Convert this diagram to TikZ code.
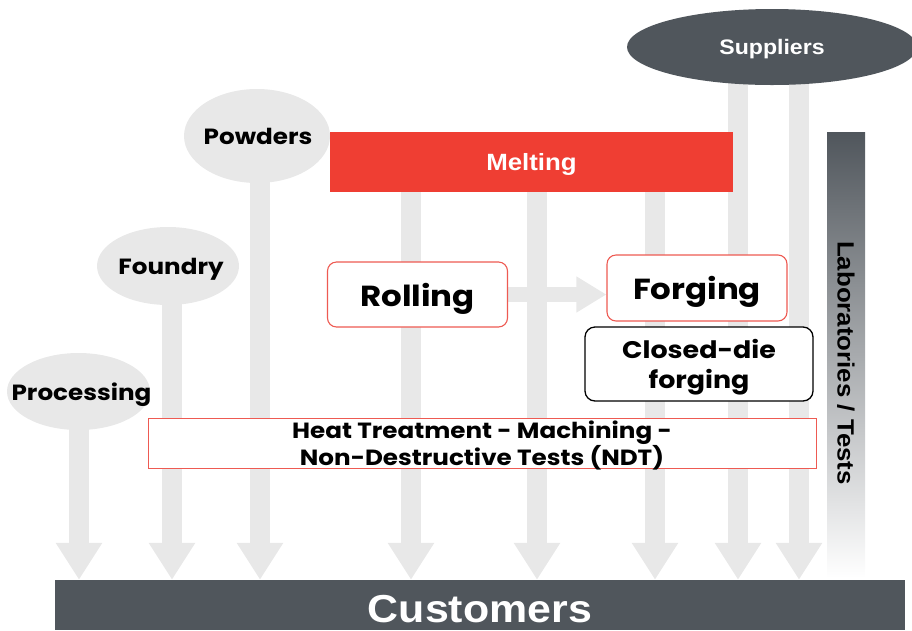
\documentclass[tikz,border=0pt]{standalone}
\usepackage{fontspec}
\setmainfont{Poppins}[FakeStretch=1.12]
\newfontfamily\arialf{Liberation Sans}[FakeStretch=1.1]
\usetikzlibrary{arrows.meta,shapes.geometric}
\definecolor{shaftgray}{HTML}{E8E8E8}
\definecolor{darkslate}{HTML}{50565C}
\definecolor{meltred}{HTML}{EF3E33}
\definecolor{boxred}{HTML}{EE5A52}
\pgfdeclarelayer{bg}
\pgfsetlayers{bg,main}
\begin{document}
\begin{tikzpicture}[x=1pt,y=-1pt,
  shaft/.style={draw=shaftgray,line width=20pt,-{Triangle[width=44pt,length=37pt]}},
  bubble/.style={ellipse,fill=shaftgray,inner sep=0pt},
  bubbletext/.style={font=\fontsize{22}{24}\selectfont\bfseries,text depth=0pt,inner sep=0pt},
  redbox/.style={draw=boxred,line width=1.1pt,fill=white,rounded corners=9pt,inner sep=0pt,text depth=0pt,font=\fontsize{29}{31}\selectfont\bfseries},
]
\useasboundingbox (0,0) rectangle (912,630);

% customers bar
\node[fill=darkslate,minimum width=850pt,minimum height=50pt,inner sep=0pt] (cust) at (480,605) {};
\node[text=white,inner sep=0pt,text depth=0pt,font=\arialf\fontsize{39}{42}\selectfont\bfseries]
  (custtext) at ([yshift=-4pt]cust.center) {Customers};

% laboratories bar
\shade[top color=darkslate,middle color=darkslate!38,bottom color=white] (827,132) rectangle (865,578);
\node[rotate=-90,font=\arialf\fontsize{23.5}{26}\selectfont\bfseries] (lab) at (846,363) {Laboratories / Tests};

% suppliers
\node[ellipse,fill=darkslate,minimum width=290pt,minimum height=76pt,inner sep=0pt,text depth=0pt,
  text=white,font=\arialf\fontsize{21}{24}\selectfont\bfseries] (sup) at (772,47) {Suppliers};

% melting
\node[fill=meltred,minimum width=403pt,minimum height=60pt,inner sep=0pt,text depth=0pt,
  text=white,font=\arialf\fontsize{23.5}{26}\selectfont\bfseries] (melt) at (531.5,162) {Melting};

% sources
\node[bubble,minimum width=146pt,minimum height=94pt] (powd) at (257,136) {};
\node[bubbletext] (powdt) at ([xshift=1pt]powd.center) {Powders};
\node[bubble,minimum width=142pt,minimum height=78pt] (found) at (168,266) {};
\node[bubbletext] (foundt) at ([xshift=3pt]found.center) {Foundry};
\node[bubble,minimum width=143pt,minimum height=77pt] (proc) at (78.5,391.5) {};
\node[bubbletext] (proct) at ([xshift=3pt]proc.center) {Processing};

% process boxes
\node[redbox,minimum width=180pt,minimum height=65pt] (roll) at (417.5,294.5) {Rolling};
\node[redbox,minimum width=180pt,minimum height=66pt] (forg) at (697,288) {Forging};
\node[draw=black,line width=1.3pt,fill=white,rounded corners=10pt,minimum width=228pt,minimum height=74pt,
  inner sep=0pt,align=center,text depth=0pt,font=\fontsize{24}{30}\selectfont\bfseries] (cdf) at (699,364) {Closed-die\\forging};
\node[draw=boxred,line width=1pt,fill=white,minimum width=668pt,minimum height=50pt,inner sep=0pt,
  align=center,text depth=0pt,font=\fontsize{22}{23.5}\selectfont\bfseries] (heat) at (482,443) {Heat Treatment - Machining -\\Non-Destructive Tests (NDT)};

% shaft tops
\coordinate (tproc) at (79,391);
\coordinate (tfound) at (172,266);
\coordinate (tpowd) at (260,136);
\coordinate (tm1) at (411,162);
\coordinate (tm2) at (537,162);
\coordinate (tm3) at (655,162);
\coordinate (ts1) at (738,60);
\coordinate (ts2) at (799,60);

\begin{pgfonlayer}{bg}
\foreach \t in {tproc,tfound,tpowd,tm1,tm2,tm3,ts1,ts2}
  \draw[shaft] (\t) -- (\t |- cust.north);
\draw[draw=shaftgray,line width=15pt,-{Triangle[width=34pt,length=30pt]}]
  (roll.east) -- (roll.east -| forg.west);
\end{pgfonlayer}
\end{tikzpicture}
\end{document}
